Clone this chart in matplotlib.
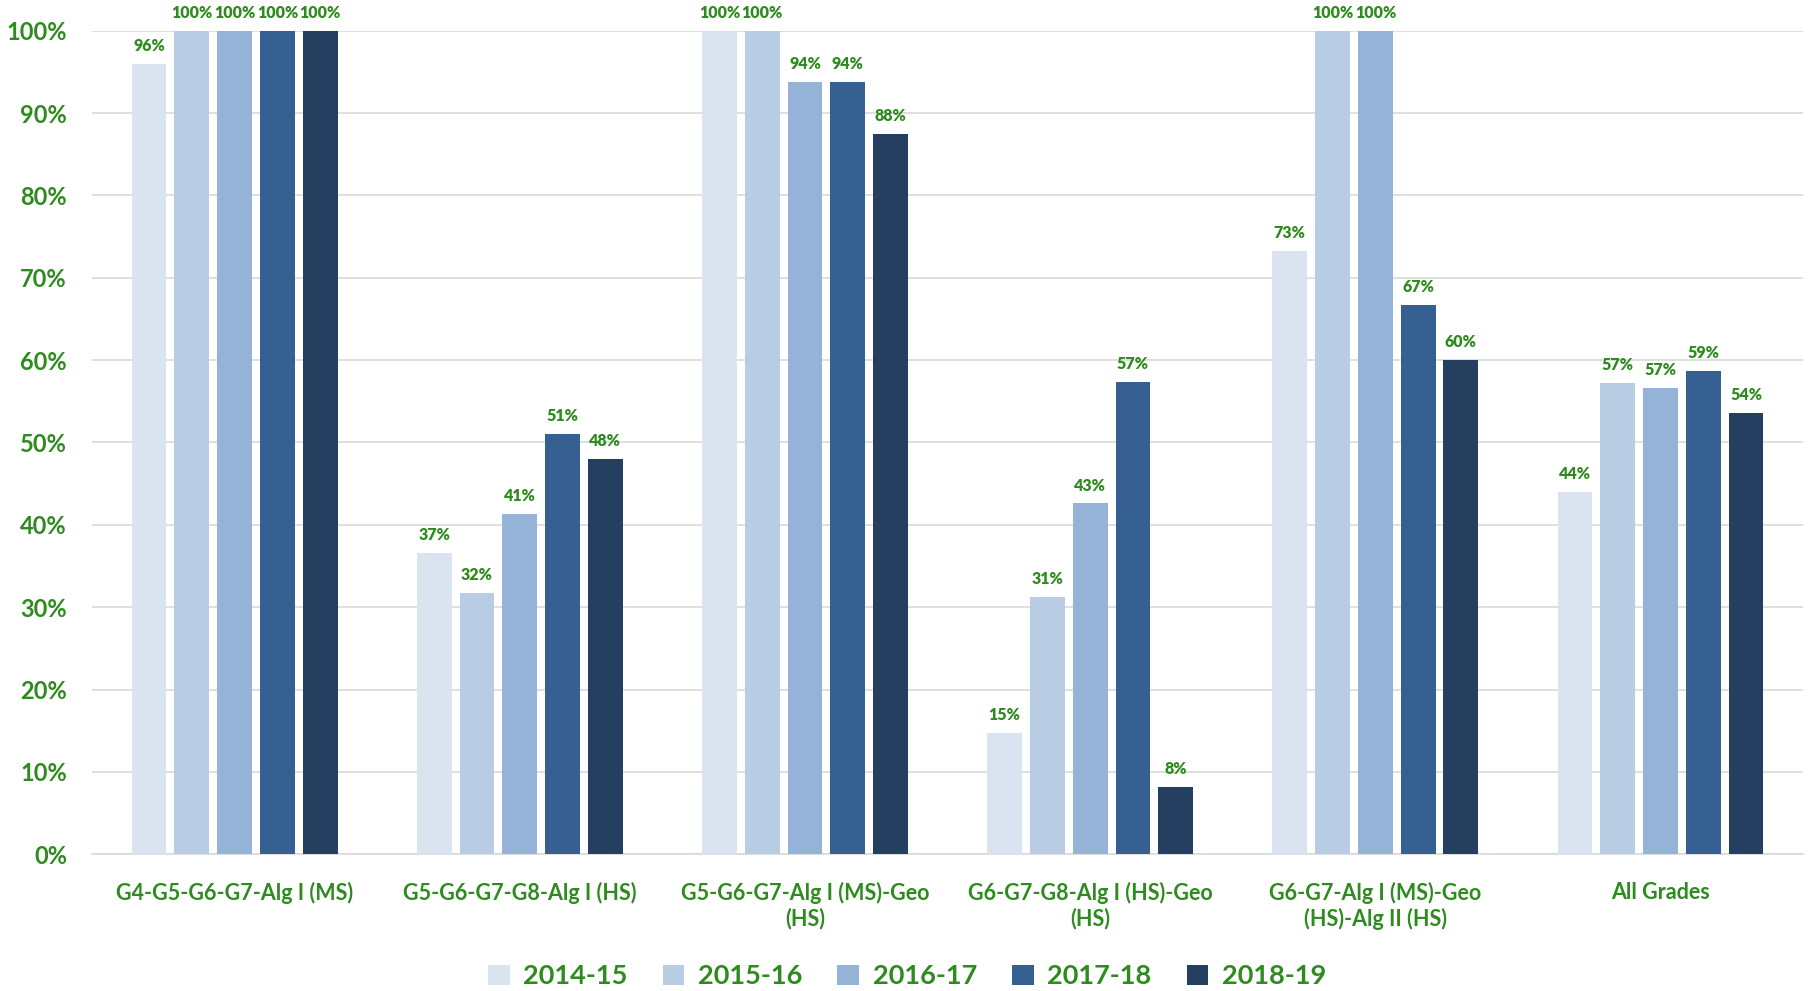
import numpy as np
import matplotlib
matplotlib.use("Agg")
import matplotlib.pyplot as plt

plt.rcParams['font.family'] = ['Lato', 'DejaVu Sans']

categories = ["G4-G5-G6-G7-Alg I (MS)", "G5-G6-G7-G8-Alg I (HS)",
              "G5-G6-G7-Alg I (MS)-Geo\n(HS)", "G6-G7-G8-Alg I (HS)-Geo\n(HS)",
              "G6-G7-Alg I (MS)-Geo\n(HS)-Alg II (HS)", "All Grades"]
years = ["2014-15", "2015-16", "2016-17", "2017-18", "2018-19"]
v2014 = [96.0, 36.6, 100.0, 14.7, 73.3, 44.0]
v2015 = [100.0, 31.7, 100.0, 31.2, 100.0, 57.2]
v2016 = [100.0, 41.3, 93.75, 42.6, 100.0, 56.6]
v2017 = [100.0, 51.0, 93.75, 57.4, 66.7, 58.7]
v2018 = [100.0, 48.0, 87.5, 8.2, 60.0, 53.6]
series = [v2014, v2015, v2016, v2017, v2018]
colors = ['#DAE3F0', '#B8CCE4', '#95B3D7', '#366092', '#243F60']
green = '#2E8B1E'

fig = plt.figure(figsize=(18.14, 9.91), dpi=100)
ax = fig.add_axes([0.0507, 0.138, 0.9433, 0.831])

x = np.arange(len(categories))
step = 0.15
width = 0.122
for k, (vals, c, yr) in enumerate(zip(series, colors, years)):
    pos = x + (k - 2) * step
    ax.bar(pos, vals, width, color=c, label=yr, zorder=3)
    for p, v in zip(pos, vals):
        ax.text(p, v + 1.2, f"{round(v):.0f}%", ha='center', va='bottom',
                color=green, fontsize=11.5, fontweight='heavy', zorder=4)

ax.set_xlim(-0.5, len(categories) - 0.5)
ax.set_ylim(0, 100)
ax.set_yticks(np.arange(0, 101, 10))
ax.set_yticklabels([f"{t}%" for t in range(0, 101, 10)])
ax.set_xticks(x)
ax.set_xticklabels(categories)
ax.tick_params(axis='y', length=0, pad=18, labelsize=17, labelcolor=green)
ax.tick_params(axis='x', length=0, pad=20, labelsize=15.5, labelcolor=green)
for lab in ax.get_xticklabels() + ax.get_yticklabels():
    lab.set_fontweight('bold')
ax.grid(axis='y', color='#D9D9D9', linewidth=1.2, zorder=0)
ax.set_axisbelow(True)
for s in ['top', 'right', 'left']:
    ax.spines[s].set_visible(False)
ax.spines['bottom'].set_color('#D9D9D9')
ax.spines['bottom'].set_linewidth(1.2)

leg = fig.legend(loc='lower center', ncol=5, frameon=False,
                 bbox_to_anchor=(0.5, -0.022), handlelength=0.8, handleheight=0.8,
                 columnspacing=1.3, handletextpad=0.5,
                 prop={'size': 19.5, 'weight': 'bold'})
for t in leg.get_texts():
    t.set_color(green)

fig.savefig("out.png", dpi=100)
